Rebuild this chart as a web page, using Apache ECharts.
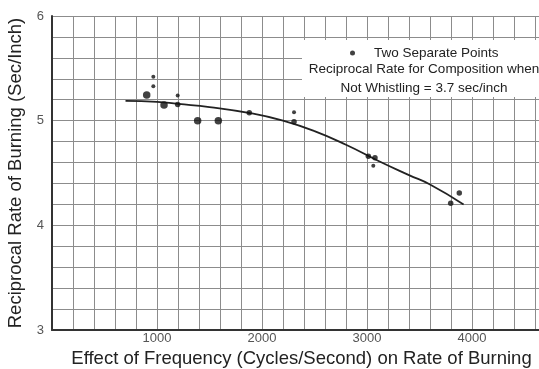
<!DOCTYPE html>
<html>
<head>
<meta charset="utf-8">
<script src="https://cdn.jsdelivr.net/npm/echarts@6/dist/echarts.min.js"></script>
<style>html,body{margin:0;padding:0;background:#fff;}#c{width:539px;height:369px;}</style>
</head>
<body>
<div id="c"></div>
<script>
// Tick labels
const xTicks = [1000, 2000, 3000, 4000];
const yTicks = [3, 4, 5, 6];
// Large measured points [frequency, reciprocal rate]
const bigPoints = [[902, 5.245], [1067, 5.15], [1387, 5.0], [1584, 5.0]];
// Medium measured points
const midPoints = [[1197, 5.155], [1879, 5.075], [2305, 4.99], [3013, 4.66], [3076, 4.645], [3797, 4.21], [3879, 4.31]];
// Two separate points (small dots)
const smallPoints = [[965, 5.42], [965, 5.33], [1197, 5.24], [2305, 5.08], [3060, 4.57]];
// Fitted trend curve
const trendCurve = [[700, 5.19], [1000, 5.18], [1200, 5.16], [1500, 5.13], [1900, 5.07], [2200, 5.0], [2500, 4.9], [2800, 4.77], [3100, 4.62], [3400, 4.48], [3600, 4.39], [3920, 4.2]];
const noteLines = ['Reciprocal Rate for Composition when', 'Not Whistling = 3.7 sec/inch'];

const ink = '#222';
const gridColor = '#8c8c8c';
const font = 'Liberation Sans, Arial, sans-serif';
const chart = echarts.init(document.getElementById('c'), null, {renderer: 'canvas'});
chart.setOption({
  animation: false,
  backgroundColor: '#fff',
  textStyle: {fontFamily: font},
  grid: {left: 52, top: 16, width: 525, height: 314, containLabel: false, outerBoundsMode: 'none'},
  xAxis: {
    type: 'value', min: 0, max: 5000, interval: 1000,
    name: 'Effect of Frequency (Cycles/Second) on Rate of Burning',
    nameLocation: 'middle', nameGap: 19.5,
    nameTextStyle: {fontSize: 18.5, color: ink, padding: [0, 26, 0, 0]},
    axisLine: {show: true, lineStyle: {color: '#333', width: 2}},
    axisTick: {show: false},
    axisLabel: {fontSize: 13, color: '#555', margin: 2,
      formatter: v => xTicks.indexOf(v) >= 0 ? String(v) : ''},
    splitLine: {show: true, lineStyle: {color: gridColor, width: 1}},
    minorTick: {show: false, splitNumber: 5},
    minorSplitLine: {show: true, lineStyle: {color: gridColor, width: 1}}
  },
  yAxis: {
    type: 'value', min: 3, max: 6, interval: 1,
    name: 'Reciprocal Rate of Burning (Sec/Inch)',
    nameLocation: 'middle', nameGap: 23, nameRotate: 90,
    nameTextStyle: {fontSize: 18.5, color: ink},
    axisLine: {show: true, lineStyle: {color: '#333', width: 2}},
    axisTick: {show: false},
    axisLabel: {fontSize: 13, color: '#555', margin: 8,
      formatter: v => yTicks.indexOf(v) >= 0 ? String(v) : ''},
    splitLine: {show: true, lineStyle: {color: gridColor, width: 1}},
    minorTick: {show: false, splitNumber: 5},
    minorSplitLine: {show: true, lineStyle: {color: gridColor, width: 1}}
  },
  legend: {
    show: true, data: ['Two Separate Points'], z: 20,
    left: 345, top: 41, itemWidth: 5, itemHeight: 5, itemGap: 5,
    icon: 'circle',
    textStyle: {fontSize: 13.5, color: ink, padding: [0, 0, 0, 14]}
  },
  graphic: [
    {type: 'rect', z: 1, shape: {x: 302, y: 40, width: 237, height: 57},
      style: {fill: '#fff'}},
    {type: 'text', z: 20, x: 424, y: 60,
      style: {text: noteLines.join('\n'), fontSize: 13.5, lineHeight: 19, fill: ink,
        align: 'center', verticalAlign: 'top', fontFamily: font}}
  ],
  series: [
    {name: 'Trend', type: 'line', data: trendCurve, smooth: true, showSymbol: false,
      lineStyle: {color: ink, width: 1.8}, z: 3},
    {name: 'Measured', type: 'scatter', data: bigPoints, symbolSize: 7.5,
      itemStyle: {color: '#111'}, z: 4},
    {name: 'Measured2', type: 'scatter', data: midPoints, symbolSize: 5.5,
      itemStyle: {color: '#111'}, z: 4},
    {name: 'Two Separate Points', type: 'scatter', data: smallPoints, symbolSize: 4,
      itemStyle: {color: '#111'}, z: 4}
  ]
});
</script>
</body>
</html>
